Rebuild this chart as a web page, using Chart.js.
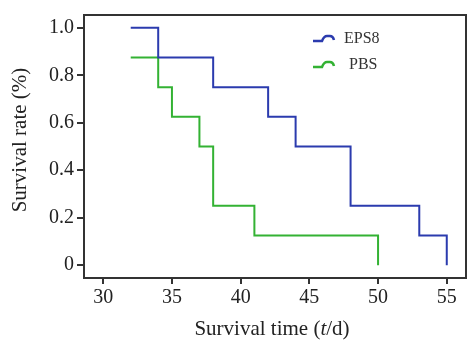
<!DOCTYPE html>
<html>
<head>
<meta charset="utf-8">
<script src="https://cdn.jsdelivr.net/npm/chart.js@4"></script>
<style>
  html, body { margin: 0; padding: 0; background: #fff; }
  #wrap { width: 473px; height: 341px; position: relative; }
</style>
</head>
<body>
<div id="wrap"><canvas id="grafico" width="473" height="341"></canvas></div>
<script>
// survival curves (time in days, survival rate)
const diasEPS8 = [32, 34, 38, 42, 44, 48, 53, 55];
const tasaEPS8 = [1.0, 0.875, 0.75, 0.625, 0.5, 0.25, 0.125, 0];
const diasPBS = [32, 34, 35, 37, 38, 41, 50];
const tasaPBS = [0.875, 0.75, 0.625, 0.5, 0.25, 0.125, 0];

const ticksX = [30, 35, 40, 45, 50, 55];
const ticksY = [0, 0.2, 0.4, 0.6, 0.8, 1.0];
const etiquetasY = ['0', '0.2', '0.4', '0.6', '0.8', '1.0'];

const series = ['EPS8', 'PBS'];
const colores = ['#2b3bae', '#33b233'];

const fuente = '"Liberation Serif", "DejaVu Serif", serif';
const ejeColor = '#333';

// frame, titles and legend drawn on top
const marcoPlugin = {
  id: 'marco',
  afterDraw(chart) {
    const ctx = chart.ctx;
    const a = chart.chartArea;
    ctx.save();
    ctx.strokeStyle = ejeColor;
    ctx.lineWidth = 2;
    ctx.beginPath();
    ctx.moveTo(a.left, a.top);
    ctx.lineTo(a.right, a.top);
    ctx.lineTo(a.right, a.bottom);
    ctx.stroke();

    // x title with italic t
    ctx.fillStyle = '#222';
    ctx.textBaseline = 'middle';
    const y = 329;
    const partes = [
      ['Survival time (', 'normal'],
      ['t', 'italic'],
      ['/d)', 'normal']
    ];
    let total = 0;
    partes.forEach(p => {
      ctx.font = p[1] + ' 21px ' + fuente;
      total += ctx.measureText(p[0]).width;
    });
    let x = 272 - total / 2;
    ctx.textAlign = 'left';
    partes.forEach(p => {
      ctx.font = p[1] + ' 21px ' + fuente;
      ctx.fillText(p[0], x, y);
      x += ctx.measureText(p[0]).width;
    });

    // y title
    ctx.save();
    ctx.translate(20, 140);
    ctx.rotate(-Math.PI / 2);
    ctx.textAlign = 'center';
    ctx.font = '21px ' + fuente;
    ctx.fillText('Survival rate (%)', 0, 0);
    ctx.restore();

    // legend
    ctx.font = '16px ' + fuente;
    ctx.textAlign = 'left';
    const filas = [39, 65];
    series.forEach((s, i) => {
      const yy = filas[i];
      ctx.strokeStyle = colores[i];
      ctx.lineWidth = 2.5;
      ctx.beginPath();
      ctx.moveTo(313, yy + 2);
      ctx.lineTo(322, yy + 2);
      ctx.quadraticCurveTo(324, yy - 3, 327, yy - 3);
      ctx.lineTo(330, yy - 3);
      ctx.quadraticCurveTo(333, yy - 3, 334, yy + 1);
      ctx.stroke();
      ctx.fillStyle = '#333';
      ctx.fillText(s, i === 0 ? 344 : 349, yy);
    });
    ctx.restore();
  }
};

const canvas = document.getElementById('grafico');
new Chart(canvas.getContext('2d'), {
  type: 'line',
  data: {
    datasets: [
      {
        label: series[0],
        data: diasEPS8.map((d, i) => ({ x: d, y: tasaEPS8[i] })),
        borderColor: colores[0],
        borderWidth: 2,
        stepped: 'before',
        pointRadius: 0,
        fill: false
      },
      {
        label: series[1],
        data: diasPBS.map((d, i) => ({ x: d, y: tasaPBS[i] })),
        borderColor: colores[1],
        borderWidth: 2,
        stepped: 'before',
        pointRadius: 0,
        fill: false
      }
    ]
  },
  options: {
    responsive: false,
    animation: false,
    layout: { padding: { top: 12, right: 7, left: 0, bottom: 0 } },
    plugins: {
      legend: { display: false },
      tooltip: { enabled: false }
    },
    scales: {
      x: {
        type: 'linear',
        min: 28.6,
        max: 56.4,
        afterBuildTicks: s => { s.ticks = ticksX.map(v => ({ value: v })); },
        afterFit: s => { s.height = 63; },
        grid: { drawOnChartArea: false, drawTicks: true, tickLength: 6, color: ejeColor, lineWidth: 2 },
        border: { display: true, color: ejeColor, width: 2 },
        ticks: { color: '#222', font: { family: fuente, size: 20 }, padding: 2, maxRotation: 0 }
      },
      y: {
        type: 'linear',
        min: -0.054,
        max: 1.054,
        afterBuildTicks: s => { s.ticks = ticksY.map(v => ({ value: v })); },
        afterFit: s => { s.width = 84; },
        grid: { drawOnChartArea: false, drawTicks: true, tickLength: 7, color: ejeColor, lineWidth: 2 },
        border: { display: true, color: ejeColor, width: 2 },
        ticks: {
          color: '#222',
          font: { family: fuente, size: 20 },
          padding: 3,
          callback: (v) => {
            const i = ticksY.findIndex(t => Math.abs(t - v) < 1e-9);
            return i >= 0 ? etiquetasY[i] : '';
          }
        }
      }
    }
  },
  plugins: [marcoPlugin]
});
</script>
</body>
</html>
